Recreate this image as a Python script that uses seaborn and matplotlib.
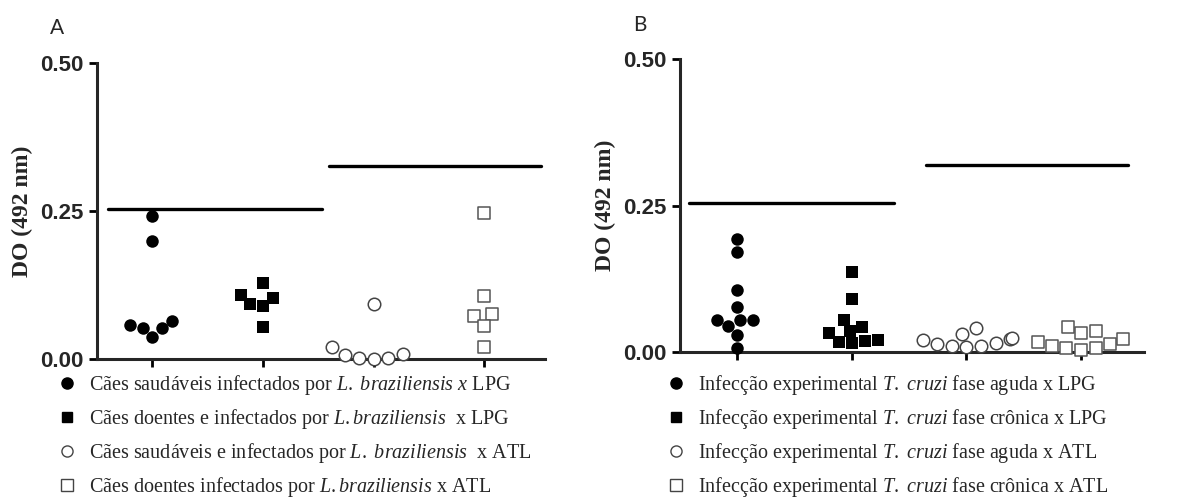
import numpy as np
import pandas as pd
import seaborn as sns
import matplotlib.pyplot as plt
from matplotlib.lines import Line2D

# Panel A - dogs, L. braziliensis
groups_a = ["saud_LPG", "doent_LPG", "saud_ATL", "doent_ATL"]
saud_lpg_a = [0.242, 0.199, 0.064, 0.052, 0.037, 0.052, 0.057]
doent_lpg_a = [0.128, 0.108, 0.093, 0.090, 0.103, 0.054]
saud_atl_a = [0.093, 0.008, 0.002, 0.000, 0.002, 0.007, 0.020]
doent_atl_a = [0.246, 0.106, 0.073, 0.076, 0.056, 0.020]
cutoff_a = [0.253, 0.326]
labels_a = [
    r"Cães saudáveis infectados por $\mathit{L.\ braziliensis}$ $\mathit{x}$ LPG",
    r"Cães doentes e infectados por $\mathit{L.braziliensis}$  x LPG",
    r"Cães saudáveis e infectados por $\mathit{L.\ braziliensis}$  x ATL",
    r"Cães doentes infectados por $\mathit{L.braziliensis}$ x ATL",
]

# Panel B - experimental T. cruzi infection
groups_b = ["aguda_LPG", "cronica_LPG", "aguda_ATL", "cronica_ATL"]
aguda_lpg_b = [0.193, 0.171, 0.106, 0.077, 0.055, 0.054, 0.055, 0.044, 0.029, 0.007]
cronica_lpg_b = [0.137, 0.090, 0.055, 0.043, 0.032, 0.019, 0.015, 0.017, 0.020, 0.036]
aguda_atl_b = [0.041, 0.031, 0.022, 0.015, 0.011, 0.008, 0.010, 0.014, 0.020, 0.024]
cronica_atl_b = [0.043, 0.036, 0.032, 0.023, 0.017, 0.013, 0.006, 0.004, 0.006, 0.010]
cutoff_b = [0.254, 0.319]
labels_b = [
    r"Infecção experimental $\mathit{T.\ cruzi}$ fase aguda x LPG",
    r"Infecção experimental $\mathit{T.\ cruzi}$ fase crônica x LPG",
    r"Infecção experimental $\mathit{T.\ cruzi}$ fase aguda x ATL",
    r"Infecção experimental $\mathit{T.\ cruzi}$ fase crônica x ATL",
]

sns.set_style("ticks")
plt.rcParams["font.family"] = ["Liberation Sans", "DejaVu Sans"]
plt.rcParams["mathtext.fontset"] = "custom"
plt.rcParams["mathtext.rm"] = "Liberation Serif"
plt.rcParams["mathtext.it"] = "Liberation Serif:italic"

# marker styles: filled circle, filled square, open circle, open square
styles = [
    dict(marker="o", color="black", edgecolor="black", linewidth=0),
    dict(marker="s", color="black", edgecolor="black", linewidth=0),
    dict(marker="o", color="white", edgecolor="#444444", linewidth=1.1),
    dict(marker="s", color="white", edgecolor="#555555", linewidth=1.1),
]


def draw_panel(ax, groups, series, cutoffs, spans, letter, letter_pos):
    df = pd.concat([pd.DataFrame({"group": g, "value": v}) for g, v in zip(groups, series)])
    for g, st in zip(groups, styles):
        sns.swarmplot(data=df[df.group == g], x="group", y="value", order=groups,
                      size=9, ax=ax, **st)
    for c in ax.collections:
        c.set_clip_on(False)
        c.set_zorder(3)
    # cut-off lines over each antigen pair
    for c, sp in zip(cutoffs, spans):
        ax.plot(sp, [c, c], color="black", lw=2.4)
    ax.set_ylim(0, 0.5)
    ax.set_xlim(-0.5, 3.55)
    ax.set_yticks([0, 0.25, 0.5])
    ax.set_yticklabels(["0.00", "0.25", "0.50"], fontsize=16, fontweight="bold")
    ax.set_xticks(range(4))
    ax.set_xticklabels([])
    ax.set_xlabel("")
    ax.set_ylabel("DO (492 nm)", family="Liberation Serif", fontweight="bold", fontsize=17, labelpad=5)
    sns.despine(ax=ax)
    for s in ["left", "bottom"]:
        ax.spines[s].set_linewidth(2.2)
    ax.tick_params(width=2, length=6, color="black")
    ax.text(letter_pos[0], letter_pos[1], letter, transform=ax.figure.transFigure,
            fontsize=15, family="Lato", va="center", ha="center")


fig = plt.figure(figsize=(11.87, 5.04), dpi=100)
ax_a = fig.add_axes([0.0817, 0.2877, 0.3775, 0.5873])
ax_b = fig.add_axes([0.5729, 0.3016, 0.3909, 0.5813])

draw_panel(ax_a, groups_a, [saud_lpg_a, doent_lpg_a, saud_atl_a, doent_atl_a], cutoff_a,
           [(-0.4, 1.53), (1.6, 3.51)], "A", (57 / 1187, 1 - 28 / 504))
draw_panel(ax_b, groups_b, [aguda_lpg_b, cronica_lpg_b, aguda_atl_b, cronica_atl_b], cutoff_b,
           [(-0.42, 1.37), (1.65, 3.41)], "B", (640 / 1187, 1 - 25 / 504))

handles = [
    Line2D([], [], ls="", marker="o", markersize=8, color="black"),
    Line2D([], [], ls="", marker="s", markersize=7, color="black"),
    Line2D([], [], ls="", marker="o", markersize=8, markerfacecolor="white", markeredgecolor="#444444"),
    Line2D([], [], ls="", marker="s", markersize=8, markerfacecolor="white", markeredgecolor="#444444"),
]
for labels, x0 in [(labels_a, 0.048), (labels_b, 0.561)]:
    fig.legend(handles, labels, loc="upper left", bbox_to_anchor=(x0, 0.26),
               frameon=False, prop={"family": "Liberation Serif", "size": 14.5},
               handlelength=1.0, handletextpad=0.6, labelspacing=0.5,
               borderpad=0, borderaxespad=0)

fig.savefig("out.png", dpi=100)
